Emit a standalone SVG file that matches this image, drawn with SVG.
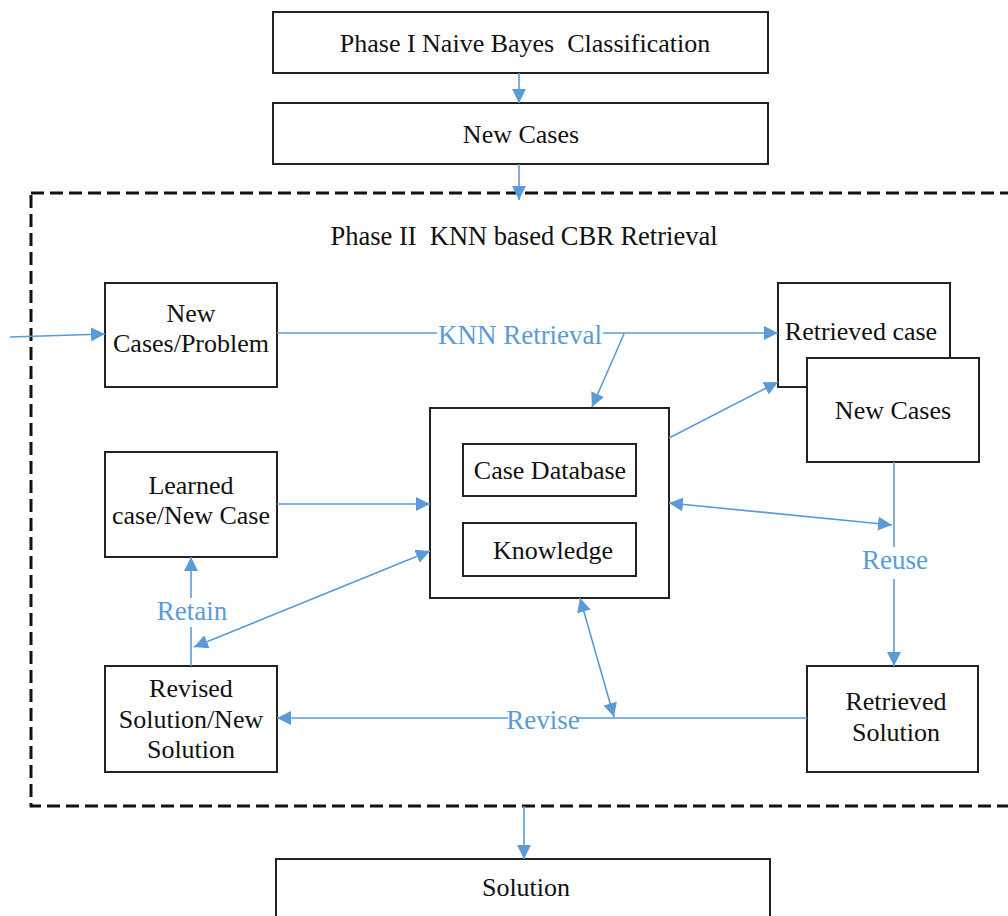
<svg xmlns="http://www.w3.org/2000/svg" width="1008" height="916" viewBox="0 0 1008 916">
<defs>
<marker id="ah" viewBox="0 0 14 14" refX="14" refY="7" markerWidth="14" markerHeight="14" markerUnits="userSpaceOnUse" orient="auto-start-reverse">
<path d="M0,0 L14,7 L0,14 z" fill="#5B9BD5"/>
</marker>
<style>
.box{fill:#fff;stroke:#222;stroke-width:2}
.t{font-family:'Liberation Serif','DejaVu Serif',serif;font-size:26px;fill:#111;text-anchor:middle}
.lbl{font-family:'Liberation Serif','DejaVu Serif',serif;font-size:27px;fill:#5B9BD5;text-anchor:middle}
.c{stroke:#5B9BD5;stroke-width:1.6;fill:none}
.a{marker-end:url(#ah)}
.d{marker-start:url(#ah);marker-end:url(#ah)}
</style>
</defs>
<rect width="1008" height="916" fill="#fff"/>
<rect id="phase2-frame" x="31" y="193" width="1000" height="613" fill="none" stroke="#111" stroke-width="3" stroke-dasharray="13 6"/>
<text class="t" x="524" y="245" xml:space="preserve" style="font-size:26.5px">Phase II  KNN based CBR Retrieval</text>

<g id="phase1"><rect class="box" x="273" y="12" width="495" height="61"/><text class="t" x="525" y="52" xml:space="preserve">Phase I Naive Bayes  Classification</text></g>
<g id="newcases-top"><rect class="box" x="273" y="103" width="495" height="61"/><text class="t" x="521" y="143">New Cases</text></g>
<g id="newproblem"><rect class="box" x="105" y="283" width="172" height="104"/><text class="t" x="191" y="322">New</text><text class="t" x="191" y="352">Cases/Problem</text></g>
<g id="learned"><rect class="box" x="105" y="452" width="172" height="105"/><text class="t" x="191" y="494">Learned</text><text class="t" x="191" y="524">case/New Case</text></g>
<g id="central"><rect class="box" x="430" y="408" width="239" height="190"/>
<rect class="box" x="463" y="444" width="173" height="52"/><text class="t" x="550" y="479">Case Database</text>
<rect class="box" x="463" y="523" width="173" height="53"/><text class="t" x="553" y="559">Knowledge</text></g>
<g id="retrieved-case"><rect class="box" x="778" y="283" width="172" height="104"/><text class="t" x="861" y="340">Retrieved case</text></g>
<g id="newcases-right"><rect class="box" x="807" y="358" width="172" height="104"/><text class="t" x="893" y="419">New Cases</text></g>
<g id="revised"><rect class="box" x="105" y="666" width="172" height="106"/><text class="t" x="191" y="697">Revised</text><text class="t" x="191" y="728">Solution/New</text><text class="t" x="191" y="758">Solution</text></g>
<g id="retrieved-solution"><rect class="box" x="807" y="666" width="171" height="106"/><text class="t" x="896" y="710">Retrieved</text><text class="t" x="896" y="741">Solution</text></g>
<g id="solution"><rect class="box" x="276" y="859" width="494" height="80"/><text class="t" x="526" y="896">Solution</text></g>

<g id="connectors">
<line class="c a" x1="519" y1="73" x2="519" y2="103"/>
<line class="c a" x1="519" y1="164" x2="519" y2="200"/>
<line class="c a" x1="10" y1="337" x2="105" y2="334"/>
<line class="c" x1="277" y1="333" x2="437" y2="333"/>
<line class="c a" x1="603" y1="333" x2="778" y2="333"/>
<line class="c a" x1="624" y1="334" x2="592" y2="407"/>
<line class="c a" x1="669" y1="438" x2="778" y2="382"/>
<line class="c a" x1="277" y1="504" x2="430" y2="504"/>
<line class="c d" x1="669" y1="503" x2="892" y2="525"/>
<line class="c" x1="894" y1="462" x2="894" y2="547"/>
<line class="c a" x1="894" y1="579" x2="894" y2="666"/>
<line class="c d" x1="430" y1="551" x2="194" y2="647"/>
<line class="c d" x1="580" y1="598" x2="614" y2="717"/>
<line class="c" x1="807" y1="718" x2="578" y2="718"/>
<line class="c a" x1="508" y1="718" x2="277" y2="718"/>
<line class="c" x1="191" y1="666" x2="191" y2="627"/>
<line class="c a" x1="191" y1="598" x2="191" y2="557"/>
<line class="c a" x1="524" y1="806" x2="524" y2="859"/>
<text class="lbl" x="520" y="344">KNN Retrieval</text>
<text class="lbl" x="895" y="569">Reuse</text>
<text class="lbl" x="192" y="620">Retain</text>
<text class="lbl" x="543" y="729">Revise</text>
</g>
</svg>
